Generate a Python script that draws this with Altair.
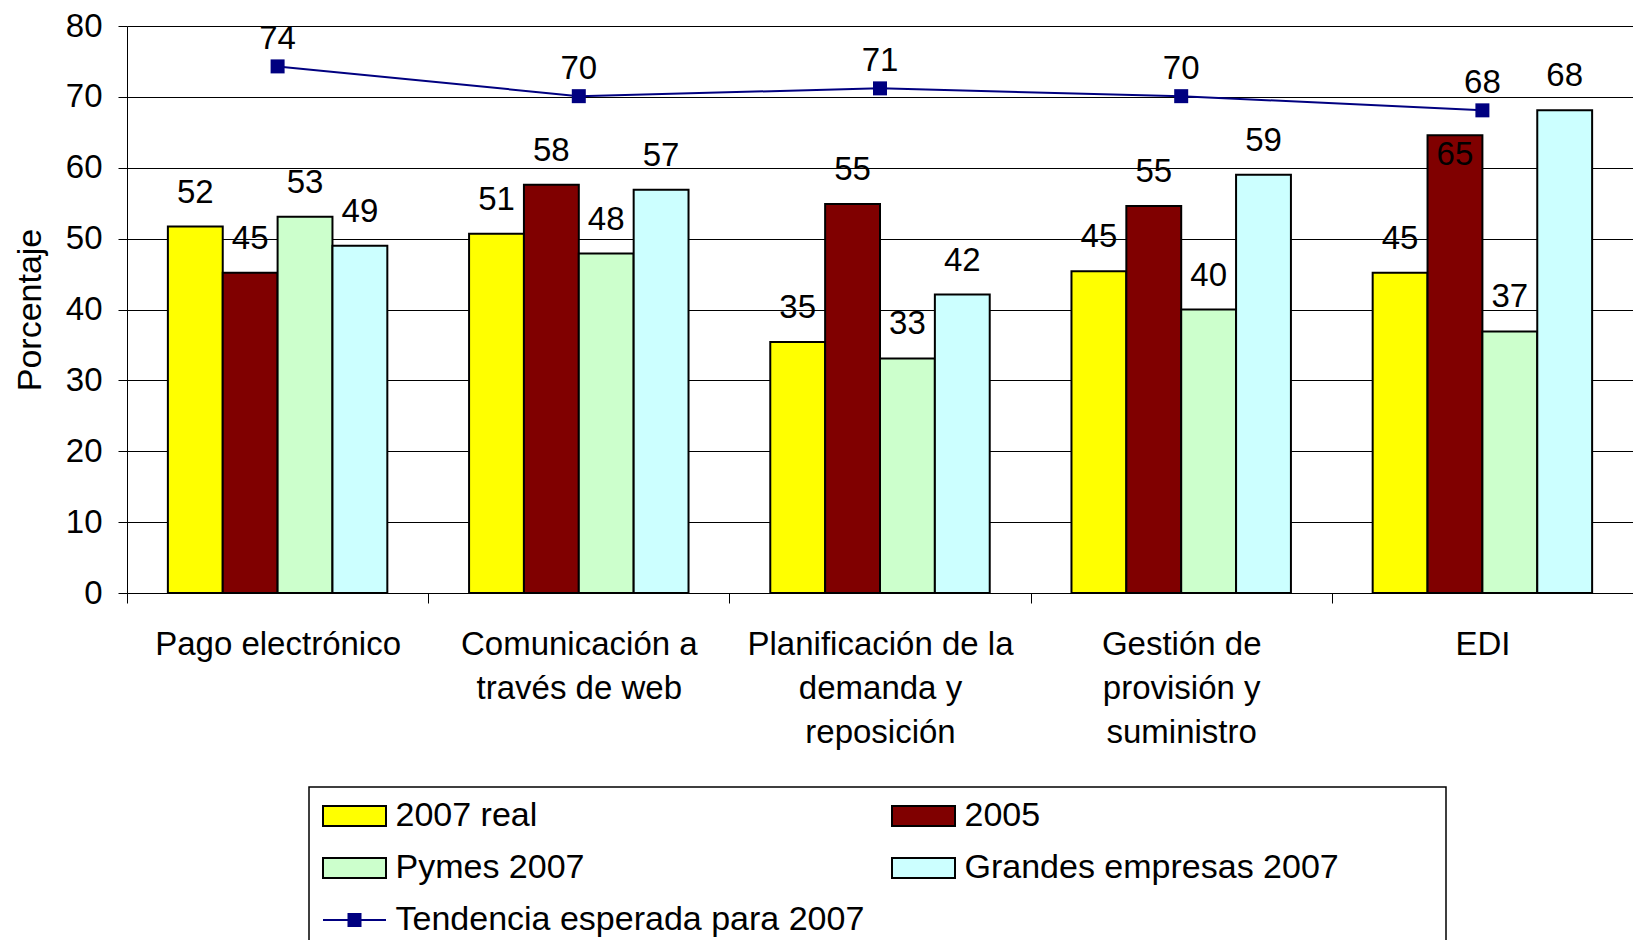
import altair as alt
import pandas as pd

FONT = "Liberation Sans"

categories = [
    "Pago electrónico",
    "Comunicación a\ntravés de web",
    "Planificación de la\ndemanda y\nreposición",
    "Gestión de\nprovisión y\nsuministro",
    "EDI",
]
bar_series = ["2007 real", "2005", "Pymes 2007", "Grandes empresas 2007"]
line_series = "Tendencia esperada para 2007"

real_2007 = [51.7, 50.7, 35.4, 45.4, 45.2]
y2005 = [45.2, 57.6, 54.9, 54.6, 64.6]
pymes_2007 = [53.1, 47.9, 33.1, 40.0, 36.9]
grandes_2007 = [49.0, 56.9, 42.1, 59.0, 68.1]
tendencia = [74.3, 70.1, 71.2, 70.1, 68.1]

y_ticks = [0, 10, 20, 30, 40, 50, 60, 70, 80]
colors = ["#FFFF00", "#800000", "#CCFFCC", "#CCFFFF", "#000080"]
strokes = ["#000000", "#000000", "#000000", "#000000", "#000080"]

all_series = bar_series + [line_series]
rect_path = "M-2.1,-0.667H2.1V0.667H-2.1Z"
line_path = "M-2.1,0H2.1M-0.4,-0.4H0.4V0.4H-0.4Z"
shapes = [rect_path, rect_path, rect_path, rect_path, line_path]

# bar labels near the trend label (centre bars close below the trend value) go inside the bar
middle_series = ["2005", "Pymes 2007"]
rows = []
for name, vals in zip(bar_series, [real_2007, y2005, pymes_2007, grandes_2007]):
    for c, v, t in zip(categories, vals, tendencia):
        inside = (name in middle_series) and (t - v < 5)
        rows.append({"categoria": c, "serie": name, "valor": v, "dentro": inside})
df_bars = pd.DataFrame(rows)
df_line = pd.DataFrame({"categoria": categories, "serie": line_series, "valor": tendencia})

fill_scale = alt.Scale(domain=all_series, range=colors)
stroke_scale = alt.Scale(domain=all_series, range=strokes)
shape_scale = alt.Scale(domain=all_series, range=shapes)

x_scale = alt.Scale(domain=categories, paddingInner=0, paddingOuter=0)
y_scale = alt.Scale(domain=[0, 80], nice=False)

x_axis = alt.Axis(
    title=None, labelExpr="split(datum.label, '\\n')", labelFont=FONT,
    labelFontSize=33, labelColor="black", labelLineHeight=44, labelPadding=25,
    tickSize=10, tickColor="black", tickWidth=1, domainColor="black",
    domainWidth=1, tickBand="extent", grid=False, labelAngle=0, labelLimit=500,
)
y_axis = alt.Axis(
    values=y_ticks, title="Porcentaje", titleFont=FONT, titleFontSize=34,
    titleFontWeight="normal", titleColor="black", titlePadding=18,
    labelFont=FONT, labelFontSize=33, labelColor="black", labelPadding=16,
    tickSize=9, tickColor="black", tickWidth=1, domainColor="black",
    domainWidth=1, gridColor="black", gridWidth=1,
)

X = alt.X("categoria:N", scale=x_scale, axis=x_axis, sort=categories)
Y = alt.Y("valor:Q", scale=y_scale, axis=y_axis)
XO = alt.XOffset("serie:N", scale=alt.Scale(domain=bar_series, paddingInner=0, paddingOuter=0.745))

# widen the legend box: trailing no-break spaces kept by a zero-width space
PAD = "\u00a0" * 10 + "\u200b"
legend_props = dict(
    title=None,
    labelExpr="datum.label == 'Grandes empresas 2007' ? datum.label + '" + PAD + "' : datum.label",
)

legend_layer = alt.Chart(df_line).transform_filter("false").mark_point(
    filled=True, opacity=1
).encode(
    fill=alt.Fill("serie:N", scale=fill_scale, legend=alt.Legend(**legend_props)),
    shape=alt.Shape("serie:N", scale=shape_scale, legend=alt.Legend(**legend_props)),
)

bars = alt.Chart(df_bars).mark_bar(stroke="black", strokeWidth=2).encode(
    x=X, xOffset=XO, y=Y,
    fill=alt.Fill("serie:N", scale=fill_scale, legend=alt.Legend(**legend_props)),
)

bar_labels = alt.Chart(df_bars).transform_filter("!datum.dentro").mark_text(
    dy=-34, baseline="middle", font=FONT, fontSize=33, color="black"
).encode(x=X, xOffset=XO, y=Y, text=alt.Text("valor:Q", format=".0f"))

bar_labels_in = alt.Chart(df_bars).transform_filter("datum.dentro").mark_text(
    dy=20, baseline="middle", font=FONT, fontSize=33, color="black"
).encode(x=X, xOffset=XO, y=Y, text=alt.Text("valor:Q", format=".0f"))

line = alt.Chart(df_line).mark_line(strokeWidth=2).encode(
    x=X, y=Y,
    stroke=alt.Stroke("serie:N", scale=stroke_scale, legend=alt.Legend(**legend_props)),
)

markers = alt.Chart(df_line).mark_square(size=196, color="#000080", opacity=1).encode(x=X, y=Y)

line_labels = alt.Chart(df_line).mark_text(
    dy=-27, baseline="middle", font=FONT, fontSize=33, color="black"
).encode(x=X, y=Y, text=alt.Text("valor:Q", format=".0f"))

chart = alt.layer(
    legend_layer, bars, bar_labels, bar_labels_in, line, markers, line_labels
).properties(
    width=1506, height=567,
    autosize=alt.AutoSizeParams(type="none"),
    padding={"left": 119, "top": 18, "right": 0, "bottom": 347},
).configure_view(strokeWidth=0).configure_legend(
    orient="none", legendX=182, legendY=761, columns=2, gridAlign="all",
    direction="horizontal",
    columnPadding=23, rowPadding=18, symbolSize=900, symbolStrokeWidth=2,
    symbolOffset=16.5,
    symbolOpacity=1, labelFont=FONT, labelFontSize=34, labelColor="black",
    labelOffset=24, labelLimit=700, padding=12, strokeColor="black",
    strokeWidth=1.5, fillColor="white", cornerRadius=0,
)

chart.save("out.html", embed_options={"renderer": "svg", "actions": False})
